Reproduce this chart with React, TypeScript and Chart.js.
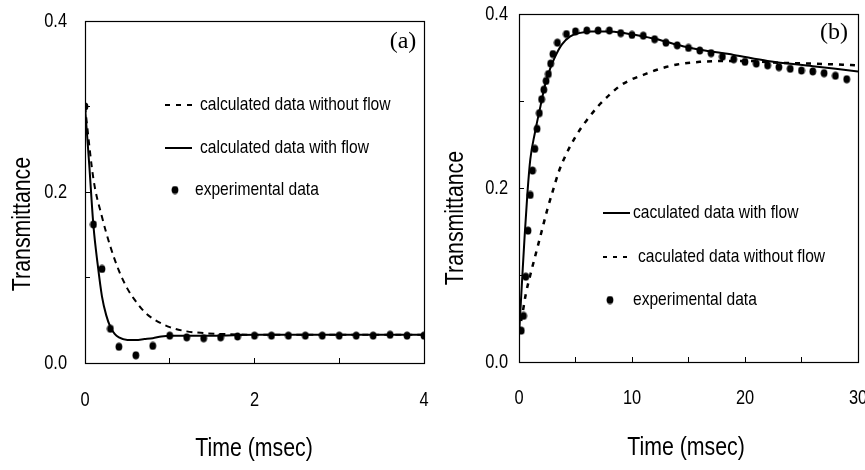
import React, { useEffect, useRef } from 'react';
import { Chart, registerables } from 'chart.js';

Chart.register(...registerables);

const SANS = '"Liberation Sans", Arial, sans-serif';
const NARROW = 0.82; // horizontal squeeze to mimic a narrow sans face
const SERIF = '"Liberation Serif", "Times New Roman", serif';

// ---------- Panel (a) data ----------
const aExpX = [0, 0.1, 0.2, 0.3, 0.4, 0.6, 0.8, 1.0, 1.2, 1.4, 1.6, 1.8, 2.0, 2.2, 2.4, 2.6, 2.8, 3.0, 3.2, 3.4, 3.6, 3.8, 4.0];
const aExpY = [0.300, 0.162, 0.110, 0.040, 0.019, 0.009, 0.020, 0.032, 0.030, 0.029, 0.030, 0.031, 0.032, 0.032, 0.032, 0.032, 0.032, 0.032, 0.032, 0.032, 0.033, 0.032, 0.032];

const aFlowX = [0, 0.05, 0.1, 0.15, 0.2, 0.25, 0.3, 0.35, 0.4, 0.5, 0.6, 0.7, 0.8, 0.9, 1.0, 1.5, 2.0, 3.0, 4.0];
const aFlowY = [0.300, 0.232, 0.160, 0.115, 0.078, 0.056, 0.042, 0.034, 0.030, 0.027, 0.027, 0.028, 0.029, 0.031, 0.032, 0.032, 0.033, 0.033, 0.033];

const aNoFlowX = [0, 0.1, 0.2, 0.3, 0.4, 0.5, 0.6, 0.7, 0.8, 1.0, 1.2, 1.4, 1.6, 2.0, 3.0, 4.0];
const aNoFlowY = [0.300, 0.215, 0.171, 0.136, 0.108, 0.087, 0.072, 0.060, 0.052, 0.042, 0.037, 0.035, 0.034, 0.033, 0.033, 0.033];

// ---------- Panel (b) data ----------
const bExpX = [0.2, 0.4, 0.6, 0.8, 1.0, 1.2, 1.4, 1.6, 1.8, 2.0, 2.2, 2.4, 2.6, 2.8, 3.0, 3.4, 4.2, 5, 6, 7, 8, 9, 10, 11, 12, 13, 14, 15, 16, 17, 18, 19, 20, 21, 22, 23, 24, 25, 26, 27, 28, 29];
const bExpY = [0.036, 0.053, 0.098, 0.151, 0.192, 0.220, 0.245, 0.268, 0.286, 0.302, 0.313, 0.323, 0.331, 0.343, 0.354, 0.367, 0.377, 0.380, 0.381, 0.381, 0.381, 0.378, 0.376, 0.375, 0.371, 0.367, 0.364, 0.361, 0.358, 0.355, 0.351, 0.348, 0.345, 0.343, 0.341, 0.339, 0.337, 0.335, 0.334, 0.332, 0.329, 0.325];

const bFlowX = [0, 0.15, 0.3, 0.5, 0.75, 1.0, 1.4, 1.9, 2.3, 2.75, 3.2, 3.8, 4.5, 5.3, 6.4, 7.9, 9.4, 10.3, 12.2, 14.5, 16, 19, 22, 26, 30];
const bFlowY = [0.030, 0.065, 0.100, 0.145, 0.195, 0.233, 0.263, 0.294, 0.318, 0.337, 0.351, 0.365, 0.374, 0.378, 0.380, 0.380, 0.378, 0.376, 0.371, 0.363, 0.359, 0.353, 0.346, 0.340, 0.334];

const bNoFlowX = [0, 0.3, 0.6, 1.0, 1.5, 2.0, 2.5, 3.0, 3.5, 4.0, 5.0, 6.0, 7.0, 8.0, 9.0, 10, 11, 12, 13, 14, 16, 18, 20, 23, 26, 30];
const bNoFlowY = [0.035, 0.055, 0.078, 0.100, 0.125, 0.150, 0.175, 0.197, 0.218, 0.234, 0.259, 0.278, 0.294, 0.307, 0.318, 0.325, 0.330, 0.335, 0.339, 0.342, 0.345, 0.346, 0.346, 0.344, 0.343, 0.341];

// ---------- Text ----------
const X_TITLE = 'Time (msec)';
const Y_TITLE = 'Transmittance';
const A_LEGEND = ['calculated data without flow', 'calculated data with flow', 'experimental data'];
const B_LEGEND = ['caculated data with flow', 'caculated data without flow', 'experimental data'];

function zip(xs: number[], ys: number[]) {
  return xs.map((x, i) => ({ x, y: ys[i] }));
}

function makeDot(): HTMLCanvasElement {
  const c = document.createElement('canvas');
  c.width = 8;
  c.height = 9;
  const g = c.getContext('2d')!;
  g.fillStyle = '#000';
  g.beginPath();
  g.ellipse(4, 4.5, 3.4, 4.1, 0, 0, Math.PI * 2);
  g.fill();
  return c;
}

function narrowText(ctx: CanvasRenderingContext2D, text: string, x: number, y: number, size: number, align: CanvasTextAlign, rotate = false) {
  ctx.save();
  ctx.translate(x, y);
  if (rotate) ctx.rotate(-Math.PI / 2);
  ctx.scale(NARROW, 1);
  ctx.font = `${size}px ${SANS}`;
  ctx.textAlign = align;
  ctx.textBaseline = 'middle';
  ctx.fillStyle = '#000';
  ctx.fillText(text, 0, 0);
  ctx.restore();
}

type LegendItem = { kind: 'solid' | 'dash' | 'dot'; x1: number; x2: number; y: number; tx: number; text: string; dash?: number[] };

type Spec = {
  padTop: number;
  padRight: number;
  yWidth: number;
  xHeight: number;
  yLabelGap: number;
  xLabelY: number;
  xMax: number;
  xStep: number;
  xLabelEvery: number;
  xTitle: [number, number];
  yTitle: [number, number];
  tag: string;
  tagPos: [number, number];
  legend: LegendItem[];
  datasets: any[];
};

const overlayPlugin = {
  id: 'overlay',
  afterDraw(chart: any, _args: any, opts: any) {
    const spec: Spec = opts.spec;
    const dot: HTMLCanvasElement = opts.dot;
    if (!spec) return;
    const { ctx, chartArea: a, scales } = chart;
    ctx.save();
    // frame
    ctx.strokeStyle = '#000';
    ctx.lineWidth = 1.2;
    ctx.setLineDash([]);
    ctx.strokeRect(Math.round(a.left) + 0.5, Math.round(a.top) + 0.5, Math.round(a.right - a.left), Math.round(a.bottom - a.top));

    // tick labels from the library's scales
    for (const t of scales.x.ticks) {
      const v = Math.round(t.value);
      if (v % spec.xLabelEvery !== 0) continue;
      narrowText(ctx, String(v), scales.x.getPixelForValue(t.value), spec.xLabelY, 20, 'center');
    }
    for (const t of scales.y.ticks) {
      const k = Math.round(t.value * 10);
      if (k % 2 !== 0) continue;
      narrowText(ctx, (k / 10).toFixed(1), a.left - spec.yLabelGap, scales.y.getPixelForValue(t.value), 20, 'right');
    }

    // axis titles
    narrowText(ctx, X_TITLE, spec.xTitle[0], spec.xTitle[1], 26, 'center');
    narrowText(ctx, Y_TITLE, spec.yTitle[0], spec.yTitle[1], 26, 'center', true);

    // panel tag
    ctx.fillStyle = '#000';
    ctx.font = `24px ${SERIF}`;
    ctx.textAlign = 'center';
    ctx.textBaseline = 'middle';
    ctx.fillText(spec.tag, spec.tagPos[0], spec.tagPos[1]);

    // legend
    for (const it of spec.legend) {
      if (it.kind === 'dot') {
        ctx.drawImage(dot, it.x1 - dot.width / 2, it.y - dot.height / 2);
      } else {
        ctx.beginPath();
        ctx.strokeStyle = '#000';
        ctx.lineWidth = 2;
        ctx.setLineDash(it.kind === 'dash' ? (it.dash || [5, 5]) : []);
        ctx.moveTo(it.x1, it.y);
        ctx.lineTo(it.x2, it.y);
        ctx.stroke();
        ctx.setLineDash([]);
      }
      narrowText(ctx, it.text, it.tx, it.y, 19, 'left');
    }
    ctx.restore();
  },
};

function buildConfig(spec: Spec, dot: HTMLCanvasElement): any {
  return {
    type: 'line',
    data: { datasets: spec.datasets },
    plugins: [overlayPlugin],
    options: {
      animation: false,
      responsive: false,
      maintainAspectRatio: false,
      events: [],
      layout: { padding: { left: 0, right: spec.padRight, top: spec.padTop, bottom: 0 } },
      plugins: {
        legend: { display: false },
        tooltip: { enabled: false },
        overlay: { spec, dot },
      },
      scales: {
        x: {
          type: 'linear',
          min: 0,
          max: spec.xMax,
          ticks: { stepSize: spec.xStep, autoSkip: false, maxRotation: 0, display: false },
          grid: { drawOnChartArea: false, drawTicks: true, tickLength: -5, color: '#000', lineWidth: 1 },
          border: { display: false },
          afterFit: (s: any) => {
            s.height = spec.xHeight;
            s.paddingLeft = 0;
            s.paddingRight = 0;
          },
        },
        y: {
          type: 'linear',
          min: 0,
          max: 0.4,
          ticks: { stepSize: 0.1, autoSkip: false, display: false },
          grid: { drawOnChartArea: false, drawTicks: true, tickLength: -5, color: '#000', lineWidth: 1 },
          border: { display: false },
          afterFit: (s: any) => {
            s.width = spec.yWidth;
            s.paddingTop = 0;
            s.paddingBottom = 0;
          },
        },
      },
    },
  };
}

function lineDs(xs: number[], ys: number[], dash: number[], width: number) {
  return {
    data: zip(xs, ys),
    borderColor: '#000',
    borderWidth: width,
    borderDash: dash,
    pointRadius: 0,
    fill: false,
    cubicInterpolationMode: 'monotone',
  };
}

function dotDs(xs: number[], ys: number[], dot: HTMLCanvasElement) {
  return {
    data: zip(xs, ys),
    showLine: false,
    pointStyle: dot,
    pointRadius: 4,
    borderColor: '#000',
    backgroundColor: '#000',
  };
}

function Panel({ make, left, width }: { make: (dot: HTMLCanvasElement) => Spec; left: number; width: number }) {
  const ref = useRef<HTMLCanvasElement | null>(null);
  useEffect(() => {
    if (!ref.current) return;
    const dot = makeDot();
    const spec = make(dot);
    const chart = new Chart(ref.current, buildConfig(spec, dot));
    return () => chart.destroy();
  }, []);
  return (
    <canvas
      ref={ref}
      width={width}
      height={470}
      style={{ position: 'absolute', left, top: 0, width, height: 470 }}
    />
  );
}

const makeA = (dot: HTMLCanvasElement): Spec => ({
  padTop: 21,
  padRight: 13,
  yWidth: 85,
  xHeight: 107,
  yLabelGap: 18,
  xLabelY: 400,
  xMax: 4,
  xStep: 1,
  xLabelEvery: 2,
  xTitle: [254, 449],
  yTitle: [23, 224],
  tag: '(a)',
  tagPos: [403, 42],
  legend: [
    { kind: 'dash', x1: 165, x2: 193, y: 105, tx: 200, text: A_LEGEND[0], dash: [5, 6] },
    { kind: 'solid', x1: 165, x2: 192, y: 148, tx: 200, text: A_LEGEND[1] },
    { kind: 'dot', x1: 175, x2: 175, y: 190, tx: 195, text: A_LEGEND[2] },
  ],
  datasets: [
    lineDs(aNoFlowX, aNoFlowY, [6, 5], 2),
    lineDs(aFlowX, aFlowY, [], 2),
    dotDs(aExpX, aExpY, dot),
  ],
});

const makeB = (dot: HTMLCanvasElement): Spec => ({
  padTop: 14,
  padRight: 7,
  yWidth: 82,
  xHeight: 108,
  yLabelGap: 11,
  xLabelY: 398,
  xMax: 30,
  xStep: 5,
  xLabelEvery: 10,
  xTitle: [249, 448],
  yTitle: [19, 218],
  tag: '(b)',
  tagPos: [397, 33],
  legend: [
    { kind: 'solid', x1: 166, x2: 193, y: 213, tx: 196, text: B_LEGEND[0] },
    { kind: 'dash', x1: 166, x2: 192, y: 257, tx: 201, text: B_LEGEND[1], dash: [4, 6] },
    { kind: 'dot', x1: 173, x2: 173, y: 300, tx: 196, text: B_LEGEND[2] },
  ],
  datasets: [
    lineDs(bFlowX, bFlowY, [], 2),
    lineDs(bNoFlowX, bNoFlowY, [5, 6], 2.5),
    dotDs(bExpX, bExpY, dot),
  ],
});

export default function App() {
  return (
    <div style={{ position: 'fixed', left: 0, top: 0, width: 865, height: 470, background: '#fff', overflow: 'hidden' }}>
      <Panel make={makeA} left={0} width={437} />
      <Panel make={makeB} left={437} width={428} />
    </div>
  );
}
